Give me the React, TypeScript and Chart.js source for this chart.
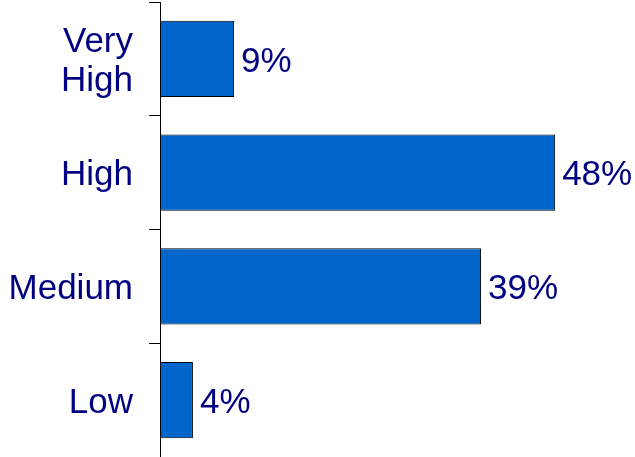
import React, { useEffect, useRef } from "react";
import { Chart, registerables } from "chart.js";

Chart.register(...registerables);

const categories: (string | string[])[] = [["Very", "High"], "High", "Medium", "Low"];
const values: number[] = [9, 48, 39, 4];
const valueLabels: string[] = ["9%", "48%", "39%", "4%"];

const BAR_COLOR = "#0066CC";
const TEXT_COLOR = "#000080";
const FONT = "'Liberation Sans', Arial, sans-serif";

const valueLabelPlugin = {
  id: "valueLabels",
  afterDatasetsDraw(chart: any) {
    const ctx = chart.ctx;
    const meta = chart.getDatasetMeta(0);
    ctx.save();
    ctx.fillStyle = TEXT_COLOR;
    ctx.font = `35px ${FONT}`;
    ctx.textAlign = "left";
    ctx.textBaseline = "middle";
    meta.data.forEach((bar: any, i: number) => {
      ctx.fillText(valueLabels[i], bar.x + 7, bar.y + 3);
    });
    ctx.restore();
  },
};

export default function App() {
  const ref = useRef<HTMLCanvasElement>(null);
  useEffect(() => {
    if (!ref.current) return;
    const chart = new Chart(ref.current, {
      type: "bar",
      data: {
        labels: categories,
        datasets: [
          {
            data: values,
            backgroundColor: BAR_COLOR,
            borderColor: "#000000",
            borderWidth: 1,
            borderSkipped: false,
            barPercentage: 0.67,
            categoryPercentage: 1,
          },
        ],
      },
      options: {
        indexAxis: "y",
        animation: false,
        responsive: false,
        maintainAspectRatio: false,
        layout: { padding: { top: 2, right: 0, bottom: 0, left: 0 } },
        plugins: {
          legend: { display: false },
          tooltip: { enabled: false },
        },
        scales: {
          x: {
            display: false,
            min: 0,
            max: 57.7,
          },
          y: {
            afterFit: (scale: any) => {
              scale.width = 160;
              scale.paddingTop = 0;
              scale.paddingBottom = 0;
            },
            border: { display: true, color: "#000000", width: 1 },
            grid: {
              offset: true,
              drawOnChartArea: false,
              drawTicks: true,
              tickLength: 11,
              color: "#000000",
            },
            ticks: {
              color: TEXT_COLOR,
              padding: 16,
              labelOffset: 3,
              font: { family: FONT, size: 35, lineHeight: 1.12 },
            },
          },
        },
      },
      plugins: [valueLabelPlugin],
    });
    return () => chart.destroy();
  }, []);
  return (
    <div style={{ position: "absolute", left: 0, top: 0, width: 635, height: 457 }}>
      <canvas ref={ref} width={635} height={457} style={{ display: "block" }} />
    </div>
  );
}
